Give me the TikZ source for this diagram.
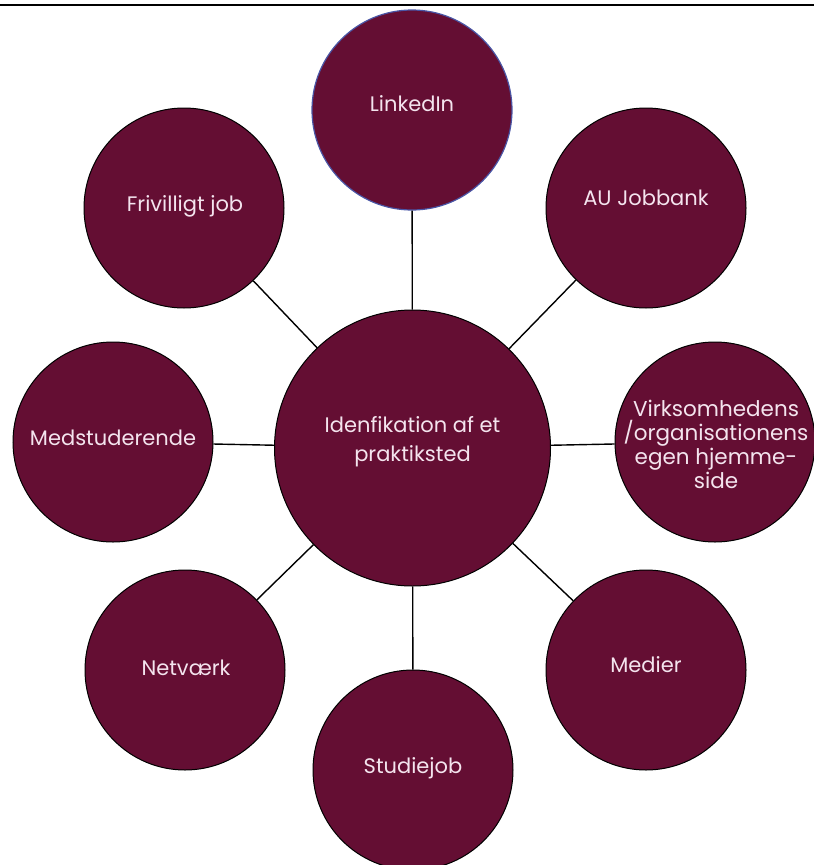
\documentclass[tikz,border=0pt]{standalone}
\usepackage{fontspec}
\setmainfont{Poppins}
\definecolor{maroon}{HTML}{640E33}
\definecolor{pinktext}{HTML}{F4E4EE}
\definecolor{linkblue}{HTML}{4A56A6}
\begin{document}
\begin{tikzpicture}[x=1pt,y=-1pt,
  bubble/.style={circle, fill=maroon, draw=black, line width=1pt, minimum size=200pt, inner sep=0pt},
  hub/.style={bubble, minimum size=276pt},
  link/.style={draw=black, line width=1.4pt},
  lbl/.style={text=pinktext, font=\fontsize{21}{29}\selectfont, align=center}]
\useasboundingbox (0,0) rectangle (814,865);
\coordinate (tl) at (0,5);
\coordinate (tr) at (814,5);
\draw[line width=1.5pt] (tl) -- (tr);

\node[hub] (c) at (412.5,448) {};
\node[bubble, draw=linkblue, line width=1.2pt] (li) at (412,110) {};
\node[bubble] (fj) at (184,208) {};
\node[bubble] (au) at (646,208) {};
\node[bubble] (md) at (113,442) {};
\node[bubble] (vk) at (715,442) {};
\node[bubble] (nv) at (185,670) {};
\node[bubble] (me) at (646,670) {};
\node[bubble] (sj) at (413,770) {};

\draw[link] (c) -- (li);
\draw[link] (c) -- (fj);
\draw[link] (c) -- (au);
\draw[link] (c) -- (md);
\draw[link] (c) -- (vk);
\draw[link] (c) -- (nv);
\draw[link] (c) -- (me);
\draw[link] (c) -- (sj);

\node[lbl] (tc) at (412.5,442) {Idenfikation af et\\praktiksted};
\node[lbl] (tli) at (412,104) {LinkedIn};
\node[lbl] (tfj) at (185,206) {Frivilligt job};
\node[lbl] (tau) at (646,198) {AU Jobbank};
\node[lbl] (tmd) at (113,438) {Medstuderende};
\node[lbl, font=\fontsize{21.5}{24}\selectfont] (tvk) at (716,444) {Virksomhedens\\/organisationens\\egen hjemme-\\side};
\node[lbl] (tnv) at (186,668) {Netværk};
\node[lbl] (tme) at (646,665) {Medier};
\node[lbl] (tsj) at (413,768) {Studiejob};
\end{tikzpicture}
\end{document}
